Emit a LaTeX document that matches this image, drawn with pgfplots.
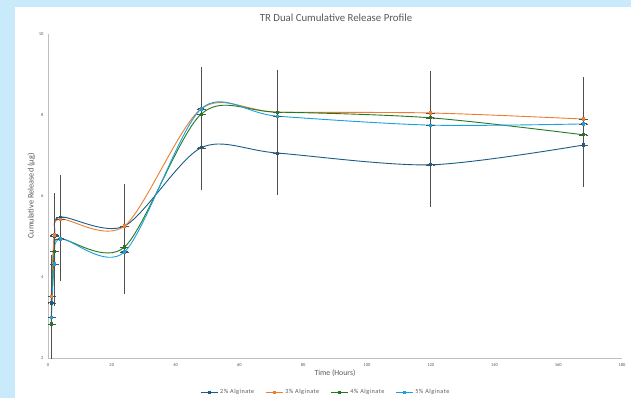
\documentclass[border=0pt]{standalone}
\usepackage{fontspec}
\setmainfont{Carlito}
\usepackage{pgfplots}
\usepackage{pgfplotstable}
\pgfplotsset{compat=1.18}
\definecolor{bgblue}{HTML}{C8EAFA}
\definecolor{txtgray}{HTML}{595959}
\definecolor{axgray}{HTML}{BFBFBF}
\definecolor{errgray}{HTML}{505050}
\definecolor{cA}{HTML}{1C5C85}
\definecolor{cB}{HTML}{ED7D31}
\definecolor{cC}{HTML}{217A21}
\definecolor{cD}{HTML}{1BA1DB}

\pgfplotstableread{
t y
1 3.36
2 5.00
4 5.48
24 5.26
48 7.19
72 7.06
120 6.77
168 7.26
}\dataA
\pgfplotstableread{
t y
1 3.52
2 5.04
4 5.43
24 5.26
48 8.15
72 8.07
120 8.05
168 7.90
}\dataB
\pgfplotstableread{
t y
1 2.84
2 4.63
4 4.94
24 4.74
48 8.02
72 8.07
120 7.93
168 7.51
}\dataC
\pgfplotstableread{
t y
1 3.01
2 4.32
4 4.94
24 4.62
48 8.15
72 7.97
120 7.75
168 7.78
}\dataD

\pgfplotsset{
  myplot/.style={smooth, line width=0.9pt, mark=square*, mark size=1.1pt,
    error bars/y dir=both, error bars/y fixed=1,
    error bars/x dir=both, error bars/x fixed=1,
    error bars/error bar style={color=errgray, line width=0.9pt, sharp plot},
    error bars/error mark options={color=errgray, mark size=1.3pt, line width=0.6pt}},
}

\begin{document}
\begin{tikzpicture}
\fill[bgblue] (0,0) rectangle (631pt,398pt);
\fill[white] (15pt,0) rectangle (631pt,391pt);
\node[text=txtgray, font=\fontsize{10.8}{12}\selectfont] at (336pt,380pt) {TR Dual Cumulative Release Profile};
\begin{axis}[
  at={(48pt,40pt)}, anchor=south west,
  scale only axis, width=574pt, height=324pt,
  xmin=0, xmax=180, ymin=2, ymax=10,
  xtick={0,20,...,180}, ytick={2,4,...,10},
  axis x line=bottom, axis y line=left,
  axis line style={-, draw=axgray, line width=0.6pt},
  major tick length=0pt,
  tick label style={text=txtgray, font=\fontsize{4.5}{5}\selectfont},
  /pgf/number format/assume math mode=true,
  xticklabel style={yshift=-2pt},
  yticklabel style={xshift=-1pt},
  xlabel={Time (Hours)}, ylabel={Cumulative Released (µg)},
  label style={text=txtgray},
  xlabel style={yshift=4pt, font=\fontsize{7.8}{9}\selectfont},
  ylabel style={yshift=-3pt, font=\fontsize{8.3}{9}\selectfont},
  legend columns=4,
  legend style={draw=none, fill=none, at={(0.484,-0.105)}, anchor=center,
    font=\fontsize{6.2}{7}\selectfont\addfontfeature{LetterSpace=8}, text=txtgray,
    /tikz/every even column/.append style={column sep=9pt}},
  legend image post style={mark size=1pt},
]
\addplot[color=cA, myplot] table[x=t,y=y] {\dataA};
\addlegendentry{2\% Alginate}
\addplot[color=cB, myplot] table[x=t,y=y] {\dataB};
\addlegendentry{3\% Alginate}
\addplot[color=cC, myplot] table[x=t,y=y] {\dataC};
\addlegendentry{4\% Alginate}
\addplot[color=cD, myplot] table[x=t,y=y] {\dataD};
\addlegendentry{5\% Alginate}
\end{axis}
\end{tikzpicture}
\end{document}
